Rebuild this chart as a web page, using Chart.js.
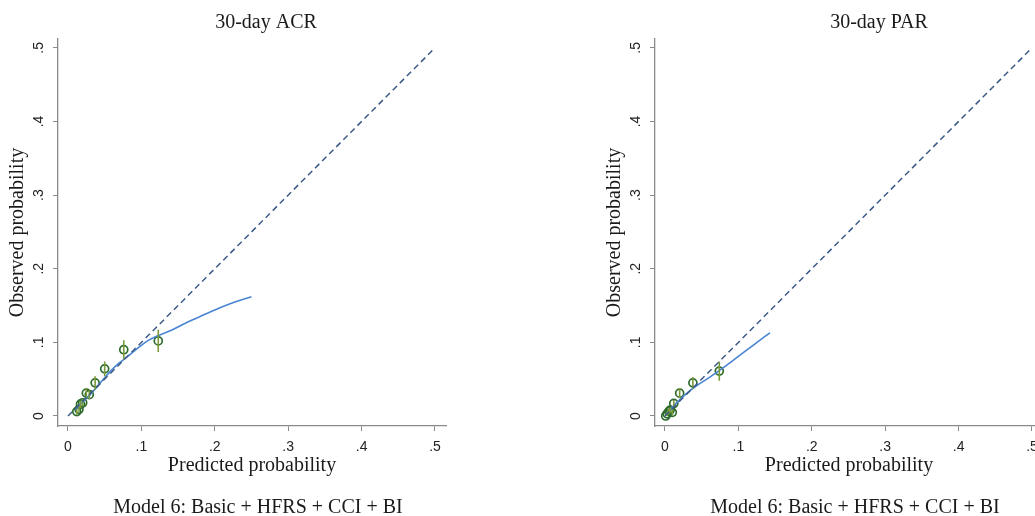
<!DOCTYPE html>
<html>
<head>
<meta charset="utf-8">
<script src="https://cdn.jsdelivr.net/npm/chart.js@4.4.1/dist/chart.umd.min.js"></script>
<style>
body { margin: 0; width: 1035px; height: 516px; overflow: hidden; background: #fff; position: relative; }
.panel { position: absolute; top: 0; width: 517px; height: 516px; }
</style>
</head>
<body>
<div class="panel" style="left:0"><canvas id="acr" width="517" height="516"></canvas></div>
<div class="panel" style="left:597px"><canvas id="par" width="517" height="516"></canvas></div>
<script>
// axis ticks (same on both axes, both panels)
var tickValues = [0, 0.1, 0.2, 0.3, 0.4, 0.5];
var tickLabels = ['0', '.1', '.2', '.3', '.4', '.5'];
var refLine = [0, 0.5];

// 30-day ACR : grouped predicted vs observed, with 95% CI
var acrPred = [0.012, 0.015, 0.017, 0.020, 0.025, 0.029, 0.037, 0.050, 0.076, 0.123];
var acrObs  = [0.006, 0.009, 0.016, 0.018, 0.031, 0.029, 0.045, 0.064, 0.090, 0.102];
var acrLow  = [0.002, 0.005, 0.011, 0.013, 0.024, 0.023, 0.036, 0.054, 0.077, 0.087];
var acrHigh = [0.010, 0.013, 0.021, 0.023, 0.038, 0.035, 0.054, 0.074, 0.103, 0.117];
// lowess smoother
var acrSmoothX = [0.01, 0.02, 0.03, 0.04, 0.05, 0.06, 0.07, 0.08, 0.09, 0.10, 0.11, 0.12, 0.14, 0.16, 0.18, 0.20, 0.22, 0.25];
var acrSmoothY = [0.008, 0.019, 0.029, 0.040, 0.052, 0.063, 0.072, 0.080, 0.088, 0.096, 0.103, 0.108, 0.116, 0.126, 0.135, 0.144, 0.152, 0.162];

// 30-day PAR
var parPred = [0.001, 0.003, 0.005, 0.007, 0.010, 0.012, 0.020, 0.038, 0.074];
var parObs  = [0.000, 0.003, 0.006, 0.008, 0.005, 0.017, 0.031, 0.045, 0.061];
var parLow  = [0.000, 0.000, 0.002, 0.004, 0.001, 0.012, 0.024, 0.037, 0.048];
var parHigh = [0.002, 0.006, 0.010, 0.012, 0.009, 0.022, 0.038, 0.053, 0.074];
var parSmoothX = [0.002, 0.01, 0.02, 0.03, 0.04, 0.06, 0.08, 0.10, 0.12, 0.143];
var parSmoothY = [0.002, 0.012, 0.022, 0.031, 0.039, 0.052, 0.066, 0.081, 0.096, 0.113];

var caption = 'Model 6: Basic + HFRS + CCI + BI';

var axisGrey = '#8a8a8a';
var serif = 'Liberation Serif';
var sans = 'Liberation Sans';

var panelText = {
  id: 'panelText',
  afterDraw: function(chart) {
    var o = chart.options.plugins.panelText;
    var ctx = chart.ctx;
    ctx.save();
    ctx.fillStyle = '#1a1a1a';
    ctx.font = '20px "' + serif + '"';
    ctx.textAlign = 'center';
    ctx.textBaseline = 'middle';
    ctx.fillText(o.title, o.titleX, 23);
    ctx.fillText(caption, 258, 508);
    ctx.restore();
  }
};

function axisOpts(min, max, title, vertical) {
  var a = {
    type: 'linear',
    min: min,
    max: max,
    afterBuildTicks: function(s) { s.ticks = tickValues.map(function(v) { return { value: v }; }); },
    ticks: {
      callback: function(v, i) { return tickLabels[i]; },
      font: { family: sans, size: 14 },
      color: '#222',
      padding: 8,
      autoSkip: false
    },
    grid: { drawOnChartArea: false, drawTicks: true, tickLength: 5, color: axisGrey, lineWidth: 1 },
    border: { display: true, color: axisGrey, width: 1.3 },
    title: { display: true, text: title, color: '#1a1a1a', font: { family: serif, size: 20 } }
  };
  if (vertical) {
    a.ticks.minRotation = 90;
    a.ticks.maxRotation = 90;
    a.ticks.crossAlign = 'center';
    a.title.padding = { top: 6, bottom: 0 };
    a.afterFit = function(s) { s.width = 58; };
  } else {
    a.ticks.maxRotation = 0;
    a.title.padding = { top: 0, bottom: 8 };
    a.afterFit = function(s) { s.height = 60; };
  }
  return a;
}

function makePanel(id, title, titleX, pred, obs, lo, hi, sx, sy) {
  var ci = [];
  pred.forEach(function(p, i) {
    ci.push({ x: p, y: lo[i] }, { x: p, y: hi[i] }, { x: p, y: null });
  });
  new Chart(document.getElementById(id), {
    type: 'scatter',
    data: {
      datasets: [
        {
          label: 'Reference',
          data: refLine.map(function(v) { return { x: v, y: v }; }),
          showLine: true, borderColor: '#3b5a88', borderWidth: 1.5, borderDash: [6, 4], pointRadius: 0
        },
        {
          label: '95% CI',
          data: ci,
          showLine: true, spanGaps: false, borderColor: '#7a9a3a', borderWidth: 1.6, pointRadius: 0
        },
        {
          label: 'Lowess',
          data: sx.map(function(x, i) { return { x: x, y: sy[i] }; }),
          showLine: true, borderColor: '#4a84d2', borderWidth: 1.6, pointRadius: 0,
          cubicInterpolationMode: 'monotone'
        },
        {
          label: 'Observed',
          data: pred.map(function(p, i) { return { x: p, y: obs[i] }; }),
          pointStyle: 'circle', pointRadius: 4, pointBorderWidth: 1.7,
          backgroundColor: 'rgba(0,0,0,0)', borderColor: '#2b6a2b'
        }
      ]
    },
    options: {
      responsive: false,
      animation: false,
      layout: { padding: { left: 0, right: 71, top: 39, bottom: 30 } },
      scales: {
        x: axisOpts(-0.0136, 0.515, 'Predicted probability', false),
        y: axisOpts(-0.0136, 0.512, 'Observed probability', true)
      },
      plugins: {
        legend: { display: false },
        tooltip: { enabled: false },
        panelText: { title: title, titleX: titleX }
      }
    },
    plugins: [panelText]
  });
}

makePanel('acr', '30-day ACR', 266, acrPred, acrObs, acrLow, acrHigh, acrSmoothX, acrSmoothY);
makePanel('par', '30-day PAR', 282, parPred, parObs, parLow, parHigh, parSmoothX, parSmoothY);
</script>
</body>
</html>
